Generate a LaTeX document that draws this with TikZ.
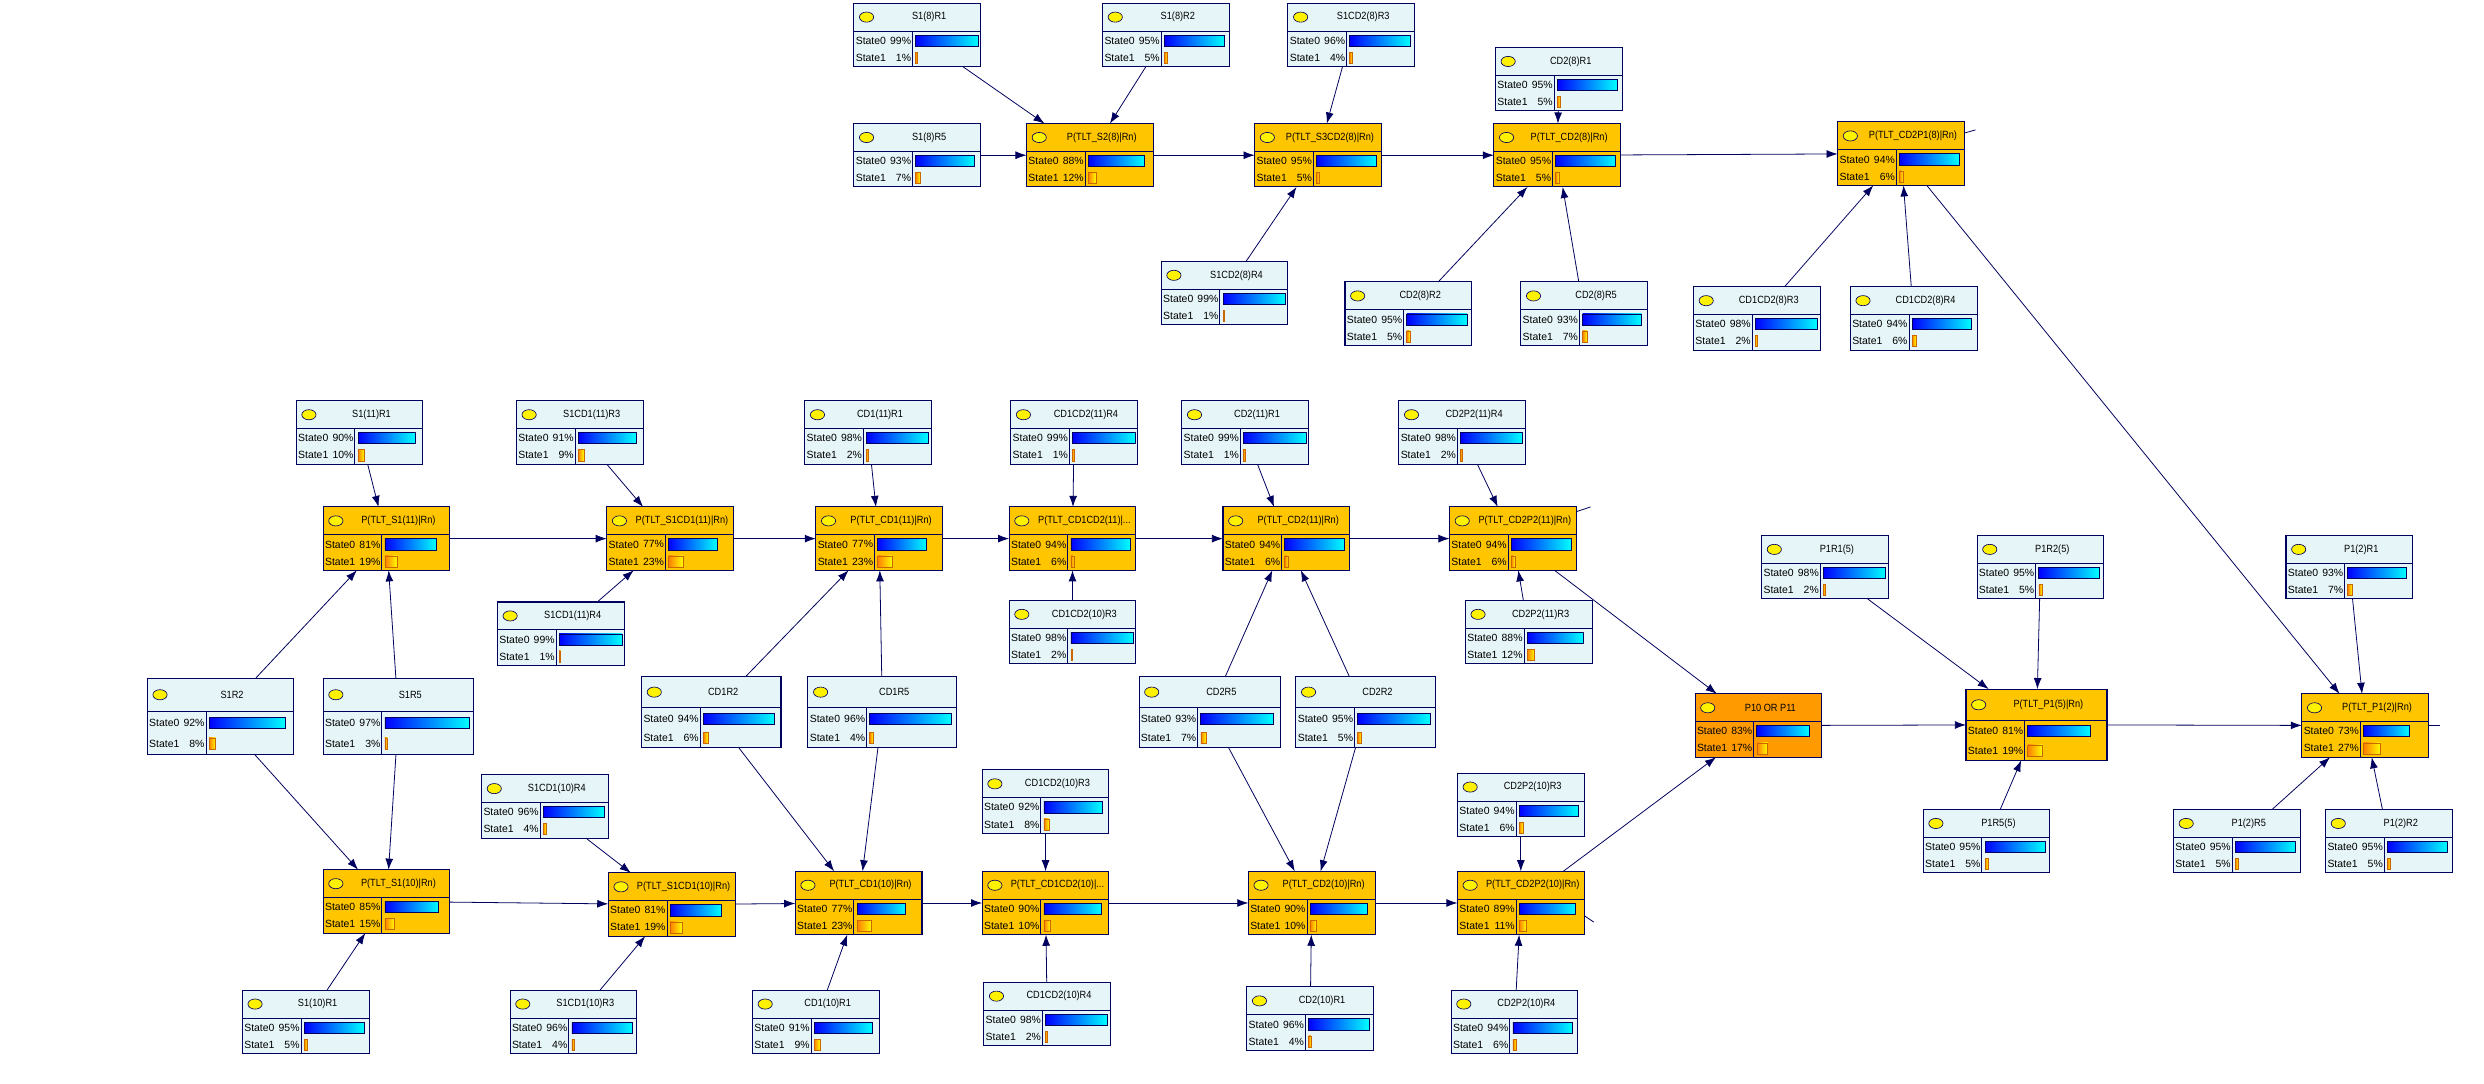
\documentclass[tikz,border=0pt]{standalone}
\usepackage{fontspec}
\setmainfont{Liberation Sans}
\usetikzlibrary{positioning,calc,arrows.meta}

\definecolor{boxblue}{HTML}{E6F5F8}
\definecolor{boxgold}{HTML}{FFC600}
\definecolor{boxorange}{HTML}{FF9A00}
\definecolor{edgenavy}{HTML}{00005E}

\tikzset{
	bn_base/.style={rectangle, draw=edgenavy, line width=0.65pt, inner sep=0pt, outer sep=0pt},
	bn_light/.style={bn_base, fill=boxblue},
	bn_gold/.style={bn_base, fill=boxgold},
	bn_orange/.style={bn_base, fill=boxorange},
	bn_text/.style={font=\fontsize{6.6}{7.5}\selectfont, inner sep=0pt},
	dep_arrow/.style={-{Latex[length=7pt,width=5pt]}, edgenavy, line width=0.5pt}
}

% node with title row and two state rows
\newcommand{\bnode}[9][bn_light]{%
	\node[#1, minimum width=#5pt, minimum height=#6pt, anchor=north west] (#2) at (#3,#4) {};
	\pgfmathsetmacro\bnT{#4+0.44*#6}%
	\pgfmathsetmacro\bnA{\bnT+0.27*(#4+#6-\bnT)}%
	\pgfmathsetmacro\bnB{\bnT+0.75*(#4+#6-\bnT)}%
	\pgfmathsetmacro\bnM{#4+0.22*#6}%
	\pgfmathsetmacro\bnC{#3+37}%
	\pgfmathsetmacro\bnK{(#5-40)/100}%
	\draw[edgenavy, line width=0.55pt] ({#3},{\bnT}) -- ({#3+#5},{\bnT}) ({\bnC},{\bnT}) -- ({\bnC},{#4+#6});
	\draw[fill=yellow, draw=edgenavy, line width=0.4pt] ({#3+8},{\bnM}) ellipse (4.5pt and 3.2pt);
	\node[bn_text] at ({#3+0.5*#5+7.5},{\bnM}) {\scalebox{0.88}[1]{#7}};
	\node[bn_text, anchor=west] at ({#3+1},{\bnA}) {State0};
	\node[bn_text, anchor=east] at ({\bnC-0.7},{\bnA}) {#8\%};
	\node[bn_text, anchor=west] at ({#3+1},{\bnB}) {State1};
	\node[bn_text, anchor=east] at ({\bnC-0.7},{\bnB}) {#9\%};
	\shadedraw[left color=blue, right color=cyan, draw=edgenavy, line width=0.5pt]
		({\bnC+2},{\bnA-3.5}) rectangle ({\bnC+2+#8*\bnK},{\bnA+3.5});
	\shadedraw[left color=orange, right color=yellow, draw=orange!80!black, line width=0.4pt]
		({\bnC+2},{\bnB-3.5}) rectangle ({\bnC+2+max(#9*\bnK,1)},{\bnB+3.5});
}

\begin{document}
\begin{tikzpicture}[x=1pt, y=-1pt]
	\useasboundingbox[fill=white] (0,0) rectangle (1568,684);

	% --- TOP GROUP (8) ---
	\bnode{s8r1}{539}{2}{80}{40}{S1(8)R1}{99}{1}
	\bnode{s8r2}{696}{2}{80}{40}{S1(8)R2}{95}{5}
	\bnode{scd8r3}{813}{2}{80}{40}{S1CD2(8)R3}{96}{4}
	\bnode{cd8r1}{944}{30}{80}{40}{CD2(8)R1}{95}{5}
	\bnode{s8r5}{539}{78}{80}{40}{S1(8)R5}{93}{7}
	\bnode[bn_gold]{ps2}{648}{78}{80}{40}{P(TLT\_S2(8)|Rn)}{88}{12}
	\bnode[bn_gold]{ps3cd2}{792}{78}{80}{40}{P(TLT\_S3CD2(8)|Rn)}{95}{5}
	\bnode[bn_gold]{pcd2a}{943}{78}{80}{40}{P(TLT\_CD2(8)|Rn)}{95}{5}
	\bnode[bn_gold]{pcd2p1}{1160}{77}{80}{40}{P(TLT\_CD2P1(8)|Rn)}{94}{6}
	\bnode{scd8r4}{733}{165}{80}{40}{S1CD2(8)R4}{99}{1}
	\bnode{cd8r2}{849}{178}{80}{40}{CD2(8)R2}{95}{5}
	\bnode{cd8r5}{960}{178}{80}{40}{CD2(8)R5}{93}{7}
	\bnode{ccd8r3}{1069}{181}{80}{40}{CD1CD2(8)R3}{98}{2}
	\bnode{ccd8r4}{1168}{181}{80}{40}{CD1CD2(8)R4}{94}{6}

	% --- MIDDLE GROUP (11) ---
	\bnode{s11r1}{187}{253}{80}{40}{S1(11)R1}{90}{10}
	\bnode{scd11r3}{326}{253}{80}{40}{S1CD1(11)R3}{91}{9}
	\bnode{cd11r1}{508}{253}{80}{40}{CD1(11)R1}{98}{2}
	\bnode{ccd11r4}{638}{253}{80}{40}{CD1CD2(11)R4}{99}{1}
	\bnode{cdb11r1}{746}{253}{80}{40}{CD2(11)R1}{99}{1}
	\bnode{cdp11r4}{883}{253}{80}{40}{CD2P2(11)R4}{98}{2}
	\bnode[bn_gold]{ps1a}{204}{320}{80}{40}{P(TLT\_S1(11)|Rn)}{81}{19}
	\bnode[bn_gold]{pscd1a}{383}{320}{80}{40}{P(TLT\_S1CD1(11)|Rn)}{77}{23}
	\bnode[bn_gold]{pcd1a}{515}{320}{80}{40}{P(TLT\_CD1(11)|Rn)}{77}{23}
	\bnode[bn_gold]{pccda}{637}{320}{80}{40}{P(TLT\_CD1CD2(11)|...}{94}{6}
	\bnode[bn_gold]{pcd2b}{772}{320}{80}{40}{P(TLT\_CD2(11)|Rn)}{94}{6}
	\bnode[bn_gold]{pcdp2a}{915}{320}{80}{40}{P(TLT\_CD2P2(11)|Rn)}{94}{6}
	\bnode{scd11r4}{314}{380}{80}{40}{S1CD1(11)R4}{99}{1}
	\bnode{ccd10r3a}{637}{379}{80}{40}{CD1CD2(10)R3}{98}{2}
	\bnode{cdp11r3}{925}{379}{80}{40}{CD2P2(11)R3}{88}{12}

	% --- SHARED PARENTS ---
	\bnode{s1r2}{93}{428}{92}{48}{S1R2}{92}{8}
	\bnode{s1r5}{204}{428}{95}{48}{S1R5}{97}{3}
	\bnode{cd1r2}{405}{427}{88}{45}{CD1R2}{94}{6}
	\bnode{cd1r5}{510}{427}{94}{45}{CD1R5}{96}{4}
	\bnode{cd2r5}{719}{427}{89}{45}{CD2R5}{93}{7}
	\bnode{cd2r2}{818}{427}{88}{45}{CD2R2}{95}{5}

	% --- BOTTOM GROUP (10) ---
	\bnode{scd10r4}{304}{489}{80}{40}{S1CD1(10)R4}{96}{4}
	\bnode{ccd10r3b}{620}{486}{80}{40}{CD1CD2(10)R3}{92}{8}
	\bnode{cdp10r3}{920}{488}{80}{40}{CD2P2(10)R3}{94}{6}
	\bnode[bn_gold]{ps1b}{204}{549}{80}{40}{P(TLT\_S1(10)|Rn)}{85}{15}
	\bnode[bn_gold]{pscd1b}{384}{551}{80}{40}{P(TLT\_S1CD1(10)|Rn)}{81}{19}
	\bnode[bn_gold]{pcd1b}{502}{550}{80}{40}{P(TLT\_CD1(10)|Rn)}{77}{23}
	\bnode[bn_gold]{pccdb}{620}{550}{80}{40}{P(TLT\_CD1CD2(10)|...}{90}{10}
	\bnode[bn_gold]{pcd2c}{788}{550}{80}{40}{P(TLT\_CD2(10)|Rn)}{90}{10}
	\bnode[bn_gold]{pcdp2b}{920}{550}{80}{40}{P(TLT\_CD2P2(10)|Rn)}{89}{11}
	\bnode{s10r1}{153}{625}{80}{40}{S1(10)R1}{95}{5}
	\bnode{scd10r3}{322}{625}{80}{40}{S1CD1(10)R3}{96}{4}
	\bnode{cd10r1}{475}{625}{80}{40}{CD1(10)R1}{91}{9}
	\bnode{ccd10r4}{621}{620}{80}{40}{CD1CD2(10)R4}{98}{2}
	\bnode{cdb10r1}{787}{623}{80}{40}{CD2(10)R1}{96}{4}
	\bnode{cdp10r4}{916}{625}{80}{40}{CD2P2(10)R4}{94}{6}

	% --- RIGHT GROUP ---
	\bnode{p1r1}{1112}{338}{80}{40}{P1R1(5)}{98}{2}
	\bnode{p1r2}{1248}{338}{80}{40}{P1R2(5)}{95}{5}
	\bnode{p12r1}{1443}{338}{80}{40}{P1(2)R1}{93}{7}
	\bnode[bn_orange]{por}{1070}{438}{80}{40}{P10 OR P11}{83}{17}
	\bnode[bn_gold]{pp15}{1241}{435}{89}{45}{P(TLT\_P1(5)|Rn)}{81}{19}
	\bnode[bn_gold]{pp12}{1453}{438}{80}{40}{P(TLT\_P1(2)|Rn)}{73}{27}
	\bnode{p1r5}{1214}{511}{80}{40}{P1R5(5)}{95}{5}
	\bnode{p12r5}{1372}{511}{80}{40}{P1(2)R5}{95}{5}
	\bnode{p12r2}{1468}{511}{80}{40}{P1(2)R2}{95}{5}

	% --- ARROWS ---
	\foreach \a/\b in {s8r1/ps2, s8r2/ps2, s8r5/ps2, ps2/ps3cd2, scd8r3/ps3cd2, scd8r4/ps3cd2,
		ps3cd2/pcd2a, cd8r1/pcd2a, cd8r2/pcd2a, cd8r5/pcd2a, pcd2a/pcd2p1, ccd8r3/pcd2p1,
		ccd8r4/pcd2p1, pcd2p1/pp12,
		s11r1/ps1a, s1r2/ps1a, s1r5/ps1a, ps1a/pscd1a, scd11r3/pscd1a, scd11r4/pscd1a,
		pscd1a/pcd1a, cd11r1/pcd1a, cd1r2/pcd1a, cd1r5/pcd1a, pcd1a/pccda, ccd11r4/pccda,
		ccd10r3a/pccda, pccda/pcd2b, cdb11r1/pcd2b, cd2r5/pcd2b, cd2r2/pcd2b, pcd2b/pcdp2a,
		cdp11r4/pcdp2a, cdp11r3/pcdp2a, pcdp2a/por,
		s1r2/ps1b, s1r5/ps1b, s10r1/ps1b, ps1b/pscd1b, scd10r4/pscd1b, scd10r3/pscd1b,
		pscd1b/pcd1b, cd1r2/pcd1b, cd1r5/pcd1b, cd10r1/pcd1b, pcd1b/pccdb, ccd10r3b/pccdb,
		ccd10r4/pccdb, pccdb/pcd2c, cd2r5/pcd2c, cd2r2/pcd2c, cdb10r1/pcd2c, pcd2c/pcdp2b,
		cdp10r3/pcdp2b, cdp10r4/pcdp2b, pcdp2b/por,
		por/pp15, p1r1/pp15, p1r2/pp15, p1r5/pp15, pp15/pp12, p12r1/pp12, p12r5/pp12, p12r2/pp12}
		\draw[dep_arrow] (\a) -- (\b);

	% --- STUBS ---
	\coordinate (stubA) at (1247,82);
	\coordinate (stubB) at (1004,320);
	\coordinate (stubC) at (1006,582);
	\coordinate (stubD) at (1540,458);
	\draw[edgenavy, line width=0.5pt] (pcd2p1.east |- 0,84) -- (stubA);
	\draw[edgenavy, line width=0.5pt] (pcdp2a.east |- 0,323) -- (stubB);
	\draw[edgenavy, line width=0.5pt] (pcdp2b.east |- 0,578) -- (stubC);
	\draw[edgenavy, line width=0.5pt] (pp12.east |- 0,458) -- (stubD);
\end{tikzpicture}
\end{document}
